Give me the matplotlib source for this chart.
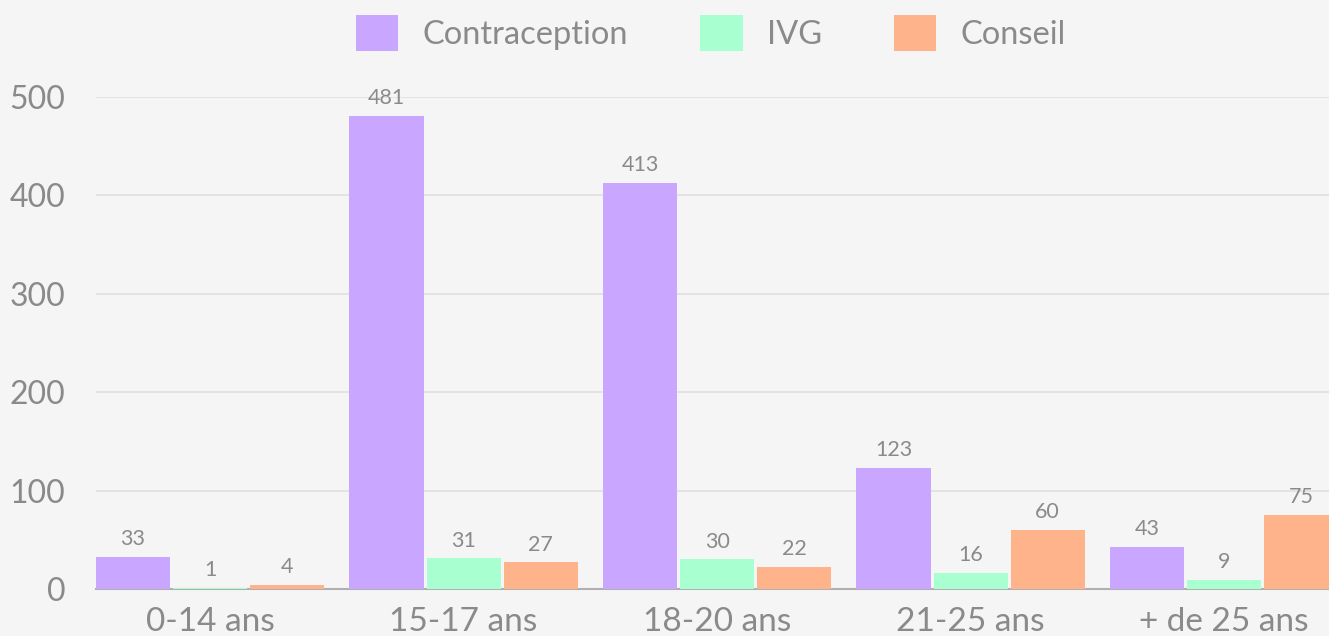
import numpy as np
import matplotlib.pyplot as plt

categories = ['0-14 ans', '15-17 ans', '18-20 ans', '21-25 ans', '+ de 25 ans']
contraception = [33, 481, 413, 123, 43]
ivg = [1, 31, 30, 16, 9]
conseil = [4, 27, 22, 60, 75]

series = [('Contraception', contraception, '#c9a6ff'),
          ('IVG', ivg, '#a8ffcf'),
          ('Conseil', conseil, '#ffb38a')]

bg = '#f5f5f5'
txt = '#8a8a8a'
plt.rcParams['font.family'] = ['Lato', 'DejaVu Sans']

fig = plt.figure(figsize=(13.29, 6.36), dpi=100, facecolor=bg)
ax = fig.add_axes([96/1329, 47/636, 1 - 96/1329, 492/636], facecolor=bg)

x = np.arange(len(categories))
w = 0.292
step = 0.304
for i, (name, vals, col) in enumerate(series):
    pos = x + (i - 1) * step
    bars = ax.bar(pos, vals, w, color=col, label=name, zorder=3)
    for b, v in zip(bars, vals):
        ax.text(b.get_x() + b.get_width()/2, v + 8, str(v), ha='center', va='bottom',
                fontsize=15.5, color=txt, zorder=4, clip_on=False)

ax.set_xlim(-0.45, 4.414)
ax.set_ylim(0, 500)
ax.set_yticks([0, 100, 200, 300, 400, 500])
ax.set_xticks(x)
ax.set_xticklabels(categories)
ax.grid(axis='y', color='#e2e2e2', linewidth=1.3, zorder=0)
ax.tick_params(axis='both', length=0, labelcolor=txt)
ax.tick_params(axis='y', pad=22, labelsize=23)
ax.tick_params(axis='x', pad=13, labelsize=24)
for s in ['top', 'right', 'left']:
    ax.spines[s].set_visible(False)
ax.spines['bottom'].set_color('#b0b0b0')
ax.spines['bottom'].set_linewidth(1.5)
ax.spines['bottom'].set_zorder(2.5)

leg = fig.legend(loc='upper center', bbox_to_anchor=(0.535, 1.022), ncol=3, frameon=False,
                 fontsize=23.5, handlelength=1.3, handleheight=1.3, handletextpad=0.75,
                 columnspacing=2.2, labelcolor=txt)

fig.savefig('out.png', dpi=100, facecolor=bg)
